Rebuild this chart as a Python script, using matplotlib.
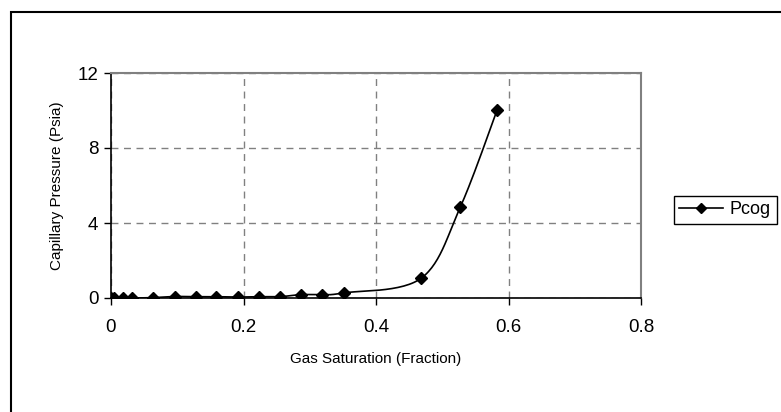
import numpy as np
import matplotlib
matplotlib.use('Agg')
import matplotlib.pyplot as plt
from matplotlib.patches import Rectangle

# gas saturation (fraction) and capillary pressure (psia)
sg = [0.0, 0.005, 0.018, 0.032, 0.063, 0.096, 0.128, 0.159, 0.191,
      0.223, 0.255, 0.287, 0.319, 0.351, 0.468, 0.527, 0.583]
pcog = [0.0, 0.0, 0.0, 0.0, 0.02, 0.08, 0.07, 0.07, 0.05,
        0.07, 0.07, 0.18, 0.18, 0.27, 1.05, 4.83, 10.04]
x_ticks = [0, 0.2, 0.4, 0.6, 0.8]
x_labels = ['0', '0.2', '0.4', '0.6', '0.8']
y_ticks = [0, 4, 8, 12]
y_labels = ['0', '4', '8', '12']


def smooth(x, y, sx, sy, n=30):
    # catmull-rom through the points, like excel's smoothed line
    p = np.column_stack([np.array(x) / sx, np.array(y) / sy])
    p = np.vstack([p[0], p, p[-1]])
    out = []
    t = np.linspace(0, 1, n)[:, None]
    for i in range(1, len(p) - 2):
        p0, p1, p2, p3 = p[i - 1], p[i], p[i + 1], p[i + 2]
        m1 = (p2 - p0) / 2
        m2 = (p3 - p1) / 2
        h00 = 2 * t**3 - 3 * t**2 + 1
        h10 = t**3 - 2 * t**2 + t
        h01 = -2 * t**3 + 3 * t**2
        h11 = t**3 - t**2
        out.append(h00 * p1 + h10 * m1 + h01 * p2 + h11 * m2)
    c = np.vstack(out)
    return c[:, 0] * sx, c[:, 1] * sy


plt.rcParams['font.family'] = ['Liberation Sans', 'DejaVu Sans']

fig = plt.figure(figsize=(7.81, 4.12), dpi=100)
ax = fig.add_axes([111 / 781, 1 - 298 / 412, 530 / 781, 225 / 412])

xs, ys = smooth(sg, pcog, 0.8, 12)
ax.plot(xs, ys, color='black', lw=1.2, zorder=3)
ax.plot(sg, pcog, linestyle='none', marker='D', ms=6.5, color='black', zorder=4)
# legend handle
ax.plot([], [], color='black', lw=1.2, marker='D', ms=5, label='Pcog')

ax.set_xlim(0, 0.8)
ax.set_ylim(0, 12)
ax.set_xticks(x_ticks)
ax.set_xticklabels(x_labels)
ax.set_yticks(y_ticks)
ax.set_yticklabels(y_labels)
ax.tick_params(direction='out', length=5, width=1, labelsize=13.5, colors='black')
ax.tick_params(axis='x', pad=10)
ax.tick_params(axis='y', pad=4)
ax.grid(True, color='#808080', linestyle=(0, (5, 4)), lw=1)
ax.set_axisbelow(True)

for s in ['left', 'bottom']:
    ax.spines[s].set_color('black')
    ax.spines[s].set_linewidth(1.2)
for s in ['top', 'right']:
    ax.spines[s].set_color('#808080')
    ax.spines[s].set_linewidth(1.5)

ax.set_xlabel('Gas Saturation (Fraction)', fontsize=11, labelpad=12)
ax.set_ylabel('Capillary Pressure (Psia)', fontsize=11, labelpad=10)

leg = fig.legend(loc='center left', bbox_to_anchor=(674 / 781, 1 - 210 / 412),
                 fancybox=False, edgecolor='black', fontsize=13,
                 handlelength=2.4, handletextpad=0.4, borderpad=0.3,
                 borderaxespad=0, framealpha=1)
leg.get_frame().set_linewidth(1)

# outer chart border
fig.patches.append(Rectangle((11 / 781, -0.1), 1.2, 1 - 12 / 412 + 0.1,
                             transform=fig.transFigure, fill=False,
                             edgecolor='black', lw=1.5))

plt.savefig('out.png', dpi=100)
